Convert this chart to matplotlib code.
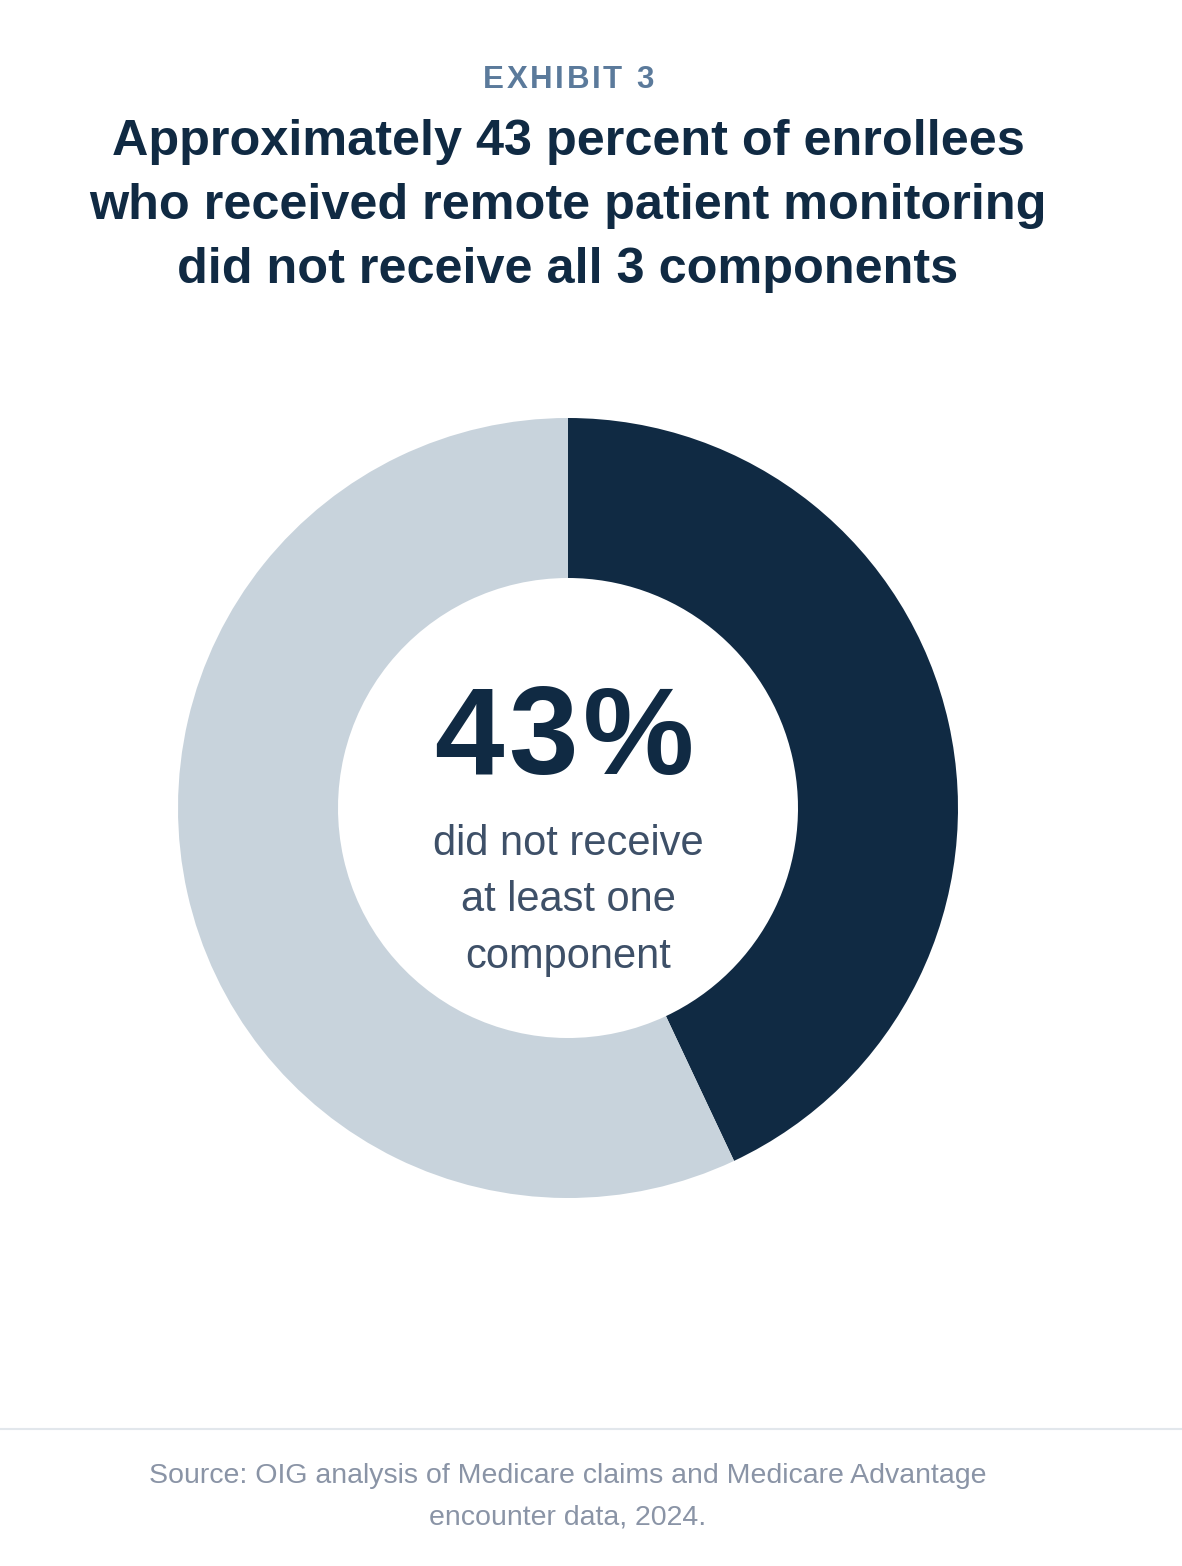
import matplotlib
matplotlib.use('Agg')
import matplotlib.pyplot as plt

# Data
segments = ['Did not receive all 3 components', 'Received all 3 components']
shares = [43, 57]
colors = ['#102a43', '#c8d3dc']

exhibit = 'EXHIBIT 3'
title_lines = ['Approximately 43 percent of enrollees',
               'who received remote patient monitoring',
               'did not receive all 3 components']
center_value = '43%'
note_lines = ['did not receive', 'at least one', 'component']
source_lines = ['Source: OIG analysis of Medicare claims and Medicare Advantage',
                'encounter data, 2024.']

W, H = 1182, 1566
plt.rcParams['font.family'] = ['Liberation Sans', 'DejaVu Sans']

fig = plt.figure(figsize=(W / 100, H / 100), dpi=100)
ax = fig.add_axes([0, 0, 1, 1])


def Y(y):
    # pixel row (from top) to data y
    return H - y


cx, cy = 568, 808
ax.pie(shares, colors=colors, startangle=90, counterclock=False,
       radius=390, center=(cx, Y(cy)),
       wedgeprops=dict(width=160, linewidth=0))

ax.set_xlim(0, W)
ax.set_ylim(0, H)
ax.set_aspect('auto')
ax.axis('off')


# letter-spaced label: place each character by hand
def spaced_text(s, x_mid, y, gap, **kw):
    r = fig.canvas.get_renderer()
    widths = []
    for ch in s:
        t = ax.text(0, 0, '\u00a0' if ch == ' ' else ch, **kw)
        widths.append(t.get_window_extent(r).width)
        t.remove()
    total = sum(widths) + gap * (len(s) - 1)
    x = x_mid - total / 2
    for ch, w in zip(s, widths):
        ax.text(x, y, ch, ha='left', va='baseline', **kw)
        x += w + gap


def lines(ls, x, baselines, **kw):
    for s, b in zip(ls, baselines):
        ax.text(x, Y(b), s, ha='center', va='baseline', **kw)


spaced_text(exhibit, 568, Y(88), 2.6,
            fontsize=22.5, fontweight='bold', color='#5b7a9b')
lines(title_lines, 568, [155, 219, 283],
      fontsize=36.3, fontweight='bold', color='#102a43')

spaced_text(center_value, 564, Y(774), 5,
            fontsize=90, fontweight='bold', color='#102a43')
lines(note_lines, cx, [855, 911, 968], fontsize=30, color='#3e5068')

ax.plot([0, W], [Y(1429), Y(1429)], color='#e2e7ec', linewidth=1.5)
lines(source_lines, 568, [1483, 1525], fontsize=20.5, color='#8a94a6')

fig.savefig('out.png', dpi=100, facecolor='white')
